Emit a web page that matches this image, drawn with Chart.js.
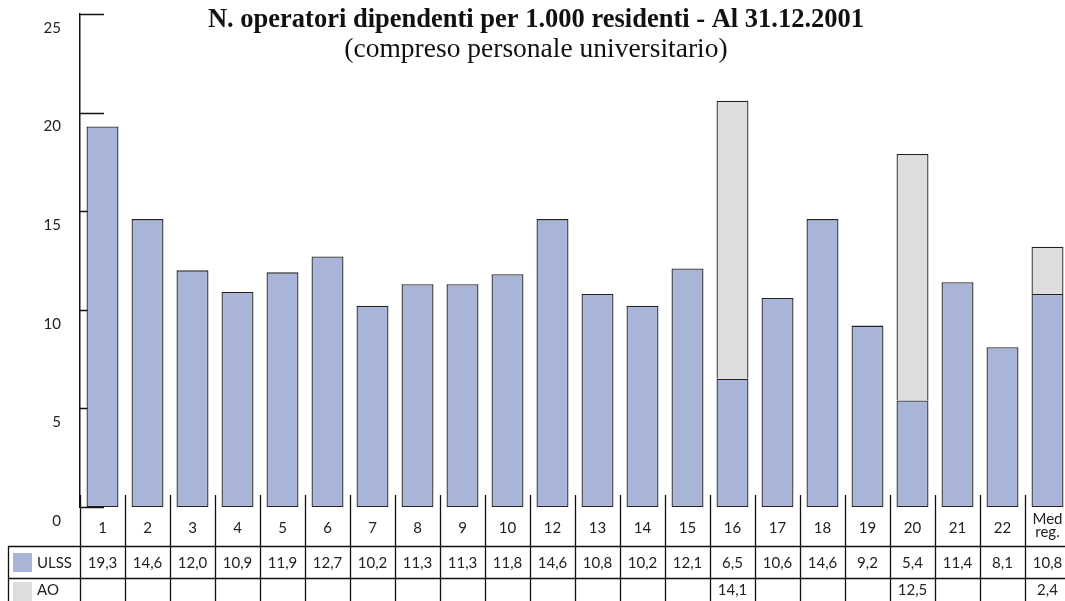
<!DOCTYPE html>
<html>
<head>
<meta charset="utf-8">
<script src="https://cdn.jsdelivr.net/npm/chart.js@4.4.0/dist/chart.umd.min.js"></script>
<style>
    html, body { margin: 0; padding: 0; background: #fff; overflow: hidden; }
    #myChart { display: block; }
</style>
</head>
<body>
<canvas id="myChart" width="1070" height="601" style="width:1070px;height:601px"></canvas>
<script>
const categories = ['1', '2', '3', '4', '5', '6', '7', '8', '9', '10', '12', '13', '14', '15', '16', '17', '18', '19', '20', '21', '22', 'Med reg.'];
const ulss = [19.3, 14.6, 12.0, 10.9, 11.9, 12.7, 10.2, 11.3, 11.3, 11.8, 14.6, 10.8, 10.2, 12.1, 6.5, 10.6, 14.6, 9.2, 5.4, 11.4, 8.1, 10.8];
const ao = [null, null, null, null, null, null, null, null, null, null, null, null, null, null, 14.1, null, null, null, 12.5, null, null, 2.4];
const yTicks = [0, 5, 10, 15, 20, 25];
const titleText = 'N. operatori dipendenti per 1.000 residenti - Al 31.12.2001';
const subtitleText = '(compreso personale universitario)';

const colorUlss = '#a9b5d8';
const colorAo = '#dddddd';
const tableFont = '15px Lato, "DejaVu Sans", sans-serif';

// format numbers the italian way: 19,3
fmt = (v) => v.toFixed(1).replace('.', ',');

// title drawn by hand so it can sit over the plot area like in the original
const titlePlugin = {
    id: 'titlePlugin',
    afterDraw(chart) {
        const ctx = chart.ctx;
        ctx.save();
        ctx.fillStyle = '#111';
        ctx.textAlign = 'center';
        ctx.textBaseline = 'middle';
        ctx.font = 'bold 26.5px "Liberation Serif", "DejaVu Serif", serif';
        ctx.fillText(titleText, 536, 20);
        ctx.font = '27.5px "Liberation Serif", "DejaVu Serif", serif';
        ctx.fillText(subtitleText, 536, 50);
        ctx.restore();
    }
};

// short tick marks going right from the axis, behind the bars
const tickMarks = {
    id: 'tickMarks',
    beforeDatasetsDraw(chart) {
        const ctx = chart.ctx;
        const y = chart.scales.y;
        const left = chart.chartArea.left;
        ctx.save();
        ctx.strokeStyle = '#111';
        ctx.lineWidth = 1.5;
        yTicks.forEach(t => {
            const py = Math.round(y.getPixelForValue(t)) + 0.5;
            ctx.beginPath();
            ctx.moveTo(left, py);
            ctx.lineTo(left + 24, py);
            ctx.stroke();
        });
        ctx.restore();
    }
};

// data table under the bars
const dataTable = {
    id: 'dataTable',
    afterDraw(chart) {
        const ctx = chart.ctx;
        const x = chart.scales.x;
        const area = chart.chartArea;
        const bottom = chart.height;
        const rowHead = area.bottom;
        const rowUlss = area.bottom + 39;
        const rowAo = area.bottom + 71;
        const half = (x.getPixelForValue(1) - x.getPixelForValue(0)) / 2;

        ctx.save();
        ctx.strokeStyle = '#111';
        ctx.lineWidth = 1.3;

        // horizontal lines
        [rowUlss, rowAo].forEach(py => {
            ctx.beginPath();
            ctx.moveTo(8, py + 0.5);
            ctx.lineTo(chart.width, py + 0.5);
            ctx.stroke();
        });
        // left border of legend column
        ctx.beginPath();
        ctx.moveTo(8.5, rowUlss);
        ctx.lineTo(8.5, bottom);
        ctx.stroke();
        // axis continues down through the table
        ctx.beginPath();
        ctx.moveTo(area.left + 0.5, area.bottom - 12);
        ctx.lineTo(area.left + 0.5, bottom);
        ctx.stroke();
        // column separators
        for (let i = 0; i < categories.length; i++) {
            const px = Math.round(x.getPixelForValue(i) + half) + 0.5;
            ctx.beginPath();
            ctx.moveTo(px, area.bottom - 12);
            ctx.lineTo(px, bottom);
            ctx.stroke();
        }

        // legend swatches
        ctx.fillStyle = colorUlss;
        ctx.fillRect(13, rowUlss + 7, 19, 19);
        ctx.fillStyle = colorAo;
        ctx.fillRect(13, rowAo + 4, 19, 19);

        ctx.fillStyle = '#222';
        ctx.font = tableFont;
        ctx.textBaseline = 'middle';
        ctx.textAlign = 'left';
        ctx.fillText('ULSS', 37, rowUlss + 17);
        ctx.fillText('AO', 37, rowAo + 12);

        ctx.textAlign = 'center';
        categories.forEach((c, i) => {
            const cx = x.getPixelForValue(i);
            if (c === 'Med reg.') {
                ctx.fillText('Med', cx, rowHead + 12);
                ctx.fillText('reg.', cx, rowHead + 25);
            } else {
                ctx.fillText(c, cx, rowHead + 21);
            }
            ctx.fillText(fmt(ulss[i]), cx, rowUlss + 17);
            if (ao[i] !== null) {
                ctx.fillText(fmt(ao[i]), cx, rowAo + 12);
            }
        });
        ctx.restore();
    }
};

const data = {
    labels: categories,
    datasets: [{
            label: 'ULSS',
            data: ulss,
            backgroundColor: colorUlss,
            borderColor: '#222',
            borderSkipped: false,
        },
        {
            label: 'AO',
            data: ao,
            backgroundColor: colorAo,
            borderColor: '#222',
            // bottom edge already drawn by the ULSS bar
            borderSkipped: 'start',
        }
    ]
};

const config = {
    type: 'bar',
    data: data,
    options: {
        responsive: false,
        animation: false,
        layout: {
            padding: { top: 14, bottom: 94, left: 0, right: 0 }
        },
        elements: {
            bar: {
                borderWidth: 1.3,
            }
        },
        datasets: {
            bar: {
                barPercentage: 0.71,
                categoryPercentage: 1,
            }
        },
        scales: {
            x: {
                display: false,
                stacked: true,
            },
            y: {
                stacked: true,
                min: 0,
                max: 25,
                afterFit: (s) => { s.width = 80; },
                // grid hidden, tickLength only used to push the labels away from the axis
                grid: { display: false, drawTicks: true, tickLength: 19 },
                border: { display: true, color: '#111', width: 1.5 },
                ticks: {
                    stepSize: 5,
                    padding: 0,
                    labelOffset: 14,
                    color: '#222',
                    font: { family: 'Lato, "DejaVu Sans", sans-serif', size: 15 },
                }
            }
        },
        plugins: {
            legend: { display: false },
            title: { display: false },
            tooltip: { enabled: false },
        }
    },
    plugins: [tickMarks, dataTable, titlePlugin]
};

let myChart = new Chart(document.getElementById('myChart'), config);
</script>
</body>
</html>
